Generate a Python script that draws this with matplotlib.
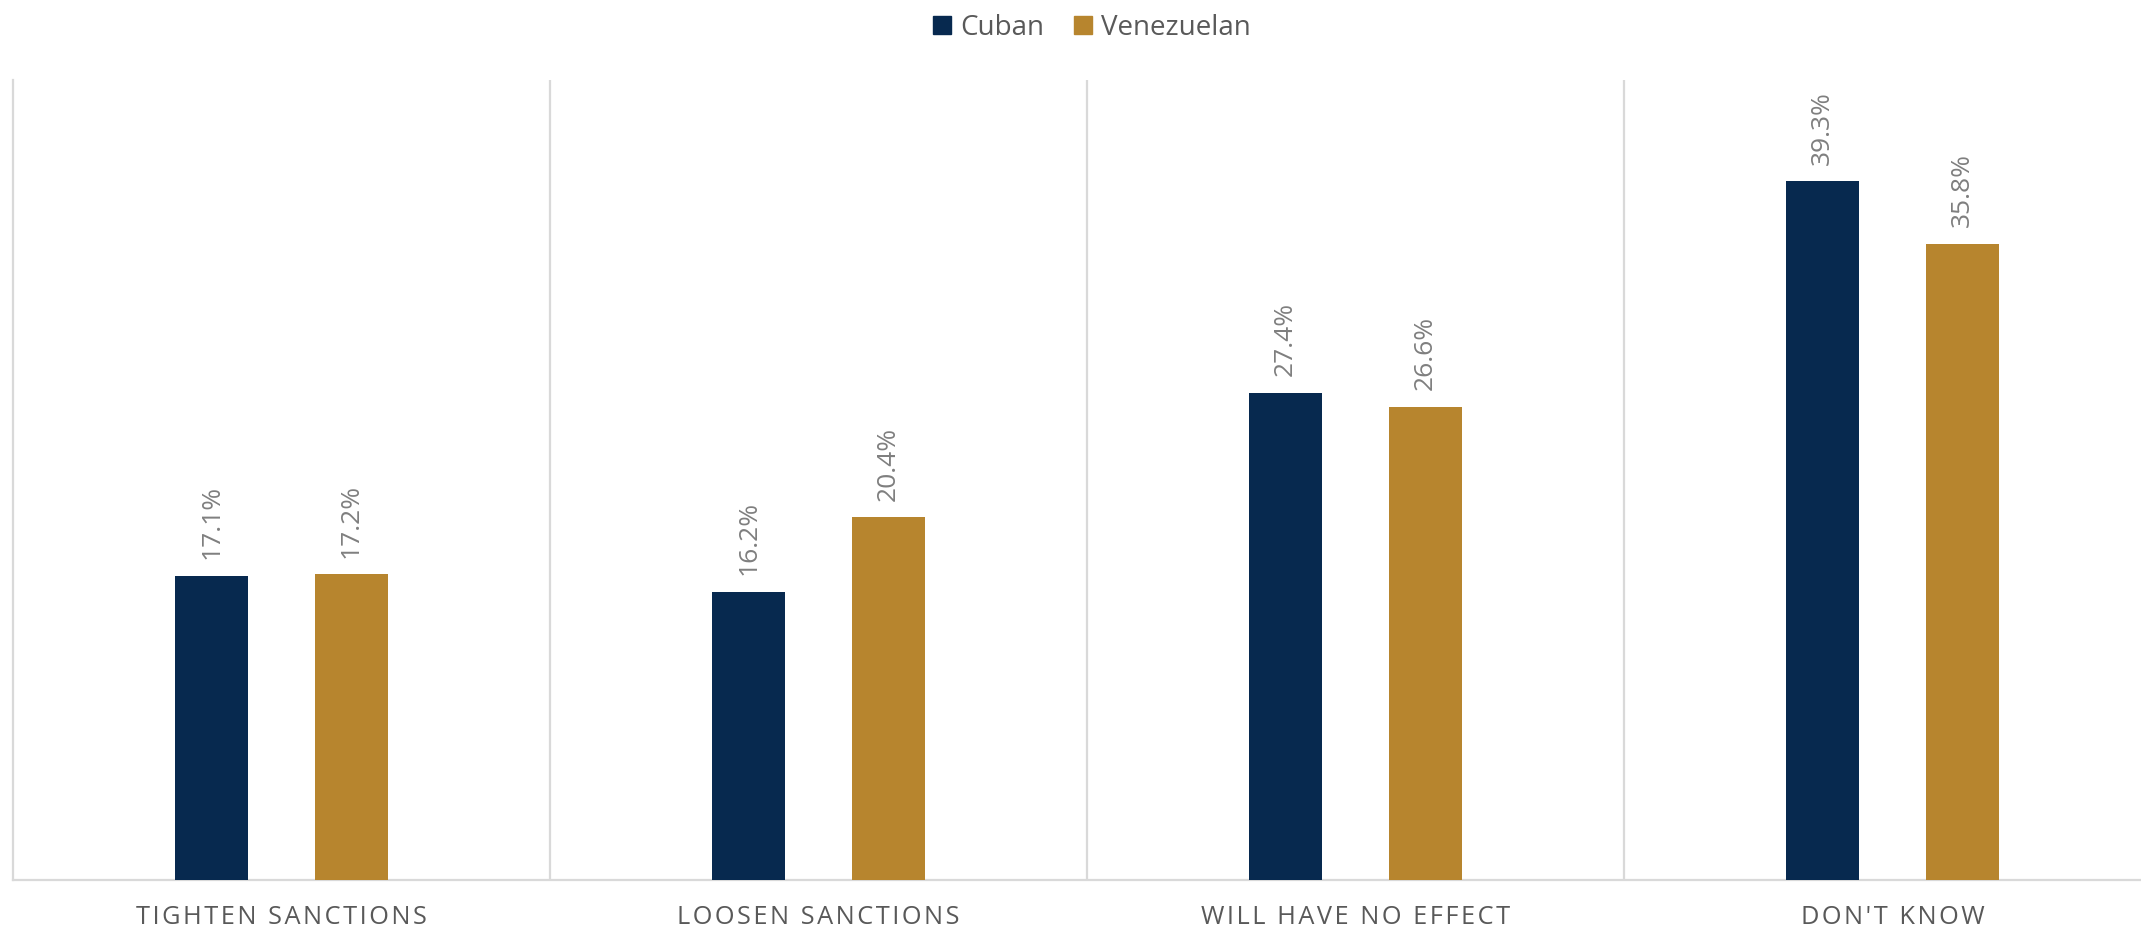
import numpy as np
import matplotlib
matplotlib.use("Agg")
import matplotlib.pyplot as plt
from matplotlib.patches import Patch

categories = ["Tighten sanctions", "Loosen sanctions", "Will have no effect", "Don't know"]
cuban = [17.1, 16.2, 27.4, 39.3]
venezuelan = [17.2, 20.4, 26.6, 35.8]
series_names = ["Cuban", "Venezuelan"]

navy = "#07294F"
gold = "#B7852E"
grid = "#D9D9D9"
FONT = ["Open Sans", "DejaVu Sans"]


def spaced(s):
    # fake letter spacing with hair spaces
    return "\u200a".join(s.upper())


fig = plt.figure(figsize=(21.41, 9.30), dpi=100)
ax = fig.add_axes([13 / 2141, 50 / 930, 2148 / 2141, 800 / 930])

x = np.arange(len(categories))
w = 0.135
off = 0.13
b1 = ax.bar(x - off, cuban, w, color=navy, zorder=3)
b2 = ax.bar(x + off, venezuelan, w, color=gold, zorder=3)

for bars, vals in ((b1, cuban), (b2, venezuelan)):
    for r, v in zip(bars, vals):
        ax.annotate(f"{v:.1f}%", (r.get_x() + r.get_width() / 2, v),
                    xytext=(0, 12), textcoords="offset points",
                    rotation=90, ha="center", va="bottom",
                    fontsize=19, color="#7F7F7F", family=FONT)

ax.set_xlim(-0.5, 3.5)
ax.set_ylim(0, 45)
for xs in [0.5, 1.5, 2.5]:
    ax.axvline(xs, color=grid, lw=1.6, zorder=1)

for s in ["top", "right"]:
    ax.spines[s].set_visible(False)
ax.spines["left"].set_color(grid)
ax.spines["left"].set_linewidth(1.6)
ax.spines["bottom"].set_color(grid)
ax.spines["bottom"].set_linewidth(1.6)

ax.set_yticks([])
ax.set_xticks(x)
ax.set_xticklabels([spaced(c) for c in categories], fontsize=18.3,
                   color="#595959", family=FONT)
ax.tick_params(axis="x", length=0, pad=18)

handles = [Patch(color=navy), Patch(color=gold)]
fig.legend(handles, series_names, loc="upper center", bbox_to_anchor=(0.51, 1.012),
           ncol=2, frameon=False, handlelength=0.65, handleheight=0.65,
           handletextpad=0.32, columnspacing=1.1,
           prop={"family": FONT, "size": 20}, labelcolor="#595959")

fig.savefig("out.png", dpi=100)
